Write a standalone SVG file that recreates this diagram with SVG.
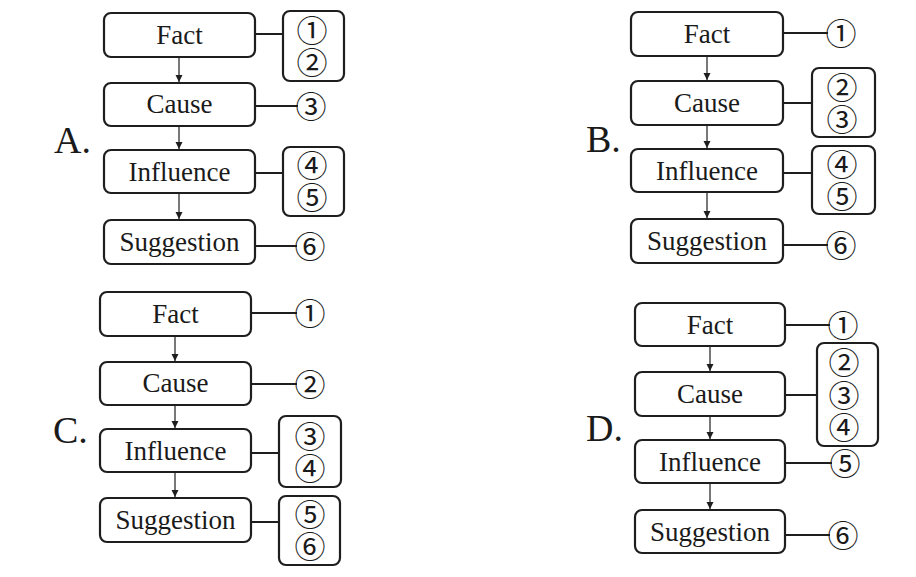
<svg xmlns="http://www.w3.org/2000/svg" width="916" height="577" viewBox="0 0 916 577">
<style>
.bx{fill:#fff;stroke:#1e1e1e;stroke-width:2.2}
.t{font-family:"Liberation Serif","Times New Roman",serif;font-size:27px;fill:#1a1a1a;text-anchor:middle}
.lab{font-family:"Liberation Serif","Times New Roman",serif;font-size:38px;fill:#1a1a1a}
.n{font-family:"Noto Sans CJK SC","Noto Sans CJK JP",sans-serif;font-size:31px;fill:#1a1a1a;text-anchor:middle;dominant-baseline:central;transform:translate(0px,-2px)}
.ln{stroke:#1e1e1e;stroke-width:2;fill:none}
.ar{stroke:#1e1e1e;stroke-width:1.2;fill:none;marker-end:url(#ah)}
</style>
<defs>
<marker id="ah" markerWidth="8" markerHeight="8" refX="7" refY="4" orient="auto" markerUnits="userSpaceOnUse">
<path d="M0,0.5 L7,4 L0,7.5 Z" fill="#1e1e1e"/>
</marker>
</defs>
<rect width="916" height="577" fill="#fff"/>

<text class="lab" x="54" y="153">A.</text>
<text class="lab" x="586" y="152">B.</text>
<text class="lab" x="53" y="443">C.</text>
<text class="lab" x="586" y="441">D.</text>

<g id="connectors">
<line class="ar" x1="179" y1="57" x2="179" y2="82"/>
<line class="ar" x1="179" y1="126" x2="179" y2="149"/>
<line class="ar" x1="179" y1="193" x2="179" y2="219"/>
<line class="ln" x1="255" y1="34" x2="283" y2="34"/>
<line class="ln" x1="255" y1="106" x2="298" y2="106"/>
<line class="ln" x1="255" y1="173" x2="283" y2="173"/>
<line class="ln" x1="255" y1="246" x2="297" y2="246"/>
<line class="ar" x1="707" y1="56" x2="707" y2="80"/>
<line class="ar" x1="707" y1="125" x2="707" y2="148"/>
<line class="ar" x1="707" y1="192" x2="707" y2="218"/>
<line class="ln" x1="783" y1="33" x2="828" y2="33"/>
<line class="ln" x1="783" y1="103" x2="812" y2="103"/>
<line class="ln" x1="783" y1="173" x2="812" y2="173"/>
<line class="ln" x1="783" y1="245" x2="828" y2="245"/>
<line class="ar" x1="175" y1="336" x2="175" y2="361"/>
<line class="ar" x1="175" y1="405" x2="175" y2="428"/>
<line class="ar" x1="175" y1="472" x2="175" y2="497"/>
<line class="ln" x1="251" y1="313" x2="297" y2="313"/>
<line class="ln" x1="251" y1="384" x2="297" y2="384"/>
<line class="ln" x1="251" y1="453" x2="279" y2="453"/>
<line class="ln" x1="251" y1="522" x2="279" y2="522"/>
<line class="ar" x1="710" y1="346" x2="710" y2="371"/>
<line class="ar" x1="710" y1="416" x2="710" y2="439"/>
<line class="ar" x1="710" y1="483" x2="710" y2="509"/>
<line class="ln" x1="785" y1="325" x2="830" y2="325"/>
<line class="ln" x1="785" y1="395" x2="817" y2="395"/>
<line class="ln" x1="785" y1="463" x2="832" y2="463"/>
<line class="ln" x1="785" y1="535" x2="830" y2="535"/>
</g>

<g id="a-fact"><rect class="bx" x="104" y="13" width="151" height="44" rx="7"/><text class="t" x="179.5" y="44">Fact</text></g>
<g id="a-cause"><rect class="bx" x="104" y="83" width="151" height="43" rx="7"/><text class="t" x="179.5" y="113">Cause</text></g>
<g id="a-influence"><rect class="bx" x="104" y="150" width="151" height="43" rx="7"/><text class="t" x="179.5" y="181">Influence</text></g>
<g id="a-suggestion"><rect class="bx" x="104" y="220" width="151" height="44" rx="7"/><text class="t" x="179.5" y="251">Suggestion</text></g>
<g id="a-n12"><rect class="bx" x="283" y="11" width="61" height="70" rx="7"/><text class="n" x="312" y="30">①</text><text class="n" x="312" y="62">②</text></g>
<g id="a-n3"><text class="n" x="311" y="106">③</text></g>
<g id="a-n45"><rect class="bx" x="283" y="147" width="61" height="69" rx="7"/><text class="n" x="312" y="165">④</text><text class="n" x="312" y="197">⑤</text></g>
<g id="a-n6"><text class="n" x="310" y="246">⑥</text></g>

<g id="b-fact"><rect class="bx" x="631" y="12" width="152" height="44" rx="7"/><text class="t" x="707" y="43">Fact</text></g>
<g id="b-cause"><rect class="bx" x="631" y="81" width="152" height="44" rx="7"/><text class="t" x="707" y="112">Cause</text></g>
<g id="b-influence"><rect class="bx" x="631" y="149" width="152" height="43" rx="7"/><text class="t" x="707" y="180">Influence</text></g>
<g id="b-suggestion"><rect class="bx" x="631" y="219" width="152" height="44" rx="7"/><text class="t" x="707" y="250">Suggestion</text></g>
<g id="b-n1"><text class="n" x="841" y="33">①</text></g>
<g id="b-n23"><rect class="bx" x="812" y="68" width="63" height="69" rx="7"/><text class="n" x="842" y="87">②</text><text class="n" x="842" y="119">③</text></g>
<g id="b-n45"><rect class="bx" x="812" y="146" width="63" height="68" rx="7"/><text class="n" x="842" y="164">④</text><text class="n" x="842" y="196">⑤</text></g>
<g id="b-n6"><text class="n" x="841" y="245">⑥</text></g>

<g id="c-fact"><rect class="bx" x="100" y="292" width="151" height="44" rx="7"/><text class="t" x="175.5" y="323">Fact</text></g>
<g id="c-cause"><rect class="bx" x="100" y="362" width="151" height="43" rx="7"/><text class="t" x="175.5" y="392">Cause</text></g>
<g id="c-influence"><rect class="bx" x="100" y="429" width="151" height="43" rx="7"/><text class="t" x="175.5" y="460">Influence</text></g>
<g id="c-suggestion"><rect class="bx" x="100" y="498" width="151" height="44" rx="7"/><text class="t" x="175.5" y="529">Suggestion</text></g>
<g id="c-n1"><text class="n" x="310" y="313">①</text></g>
<g id="c-n2"><text class="n" x="310" y="384">②</text></g>
<g id="c-n34"><rect class="bx" x="279" y="416" width="62" height="71" rx="7"/><text class="n" x="310" y="436">③</text><text class="n" x="310" y="468">④</text></g>
<g id="c-n56"><rect class="bx" x="279" y="496" width="61" height="69" rx="7"/><text class="n" x="310" y="514">⑤</text><text class="n" x="310" y="546">⑥</text></g>

<g id="d-fact"><rect class="bx" x="635" y="303" width="150" height="43" rx="7"/><text class="t" x="710" y="334">Fact</text></g>
<g id="d-cause"><rect class="bx" x="635" y="372" width="150" height="44" rx="7"/><text class="t" x="710" y="403">Cause</text></g>
<g id="d-influence"><rect class="bx" x="635" y="440" width="150" height="43" rx="7"/><text class="t" x="710" y="471">Influence</text></g>
<g id="d-suggestion"><rect class="bx" x="635" y="510" width="150" height="43" rx="7"/><text class="t" x="710" y="541">Suggestion</text></g>
<g id="d-n1"><text class="n" x="843" y="325">①</text></g>
<g id="d-n234"><rect class="bx" x="817" y="343" width="61" height="103" rx="7"/><text class="n" x="844" y="362">②</text><text class="n" x="844" y="395">③</text><text class="n" x="844" y="427">④</text></g>
<g id="d-n5"><text class="n" x="845" y="463">⑤</text></g>
<g id="d-n6"><text class="n" x="843" y="535">⑥</text></g>
</svg>
